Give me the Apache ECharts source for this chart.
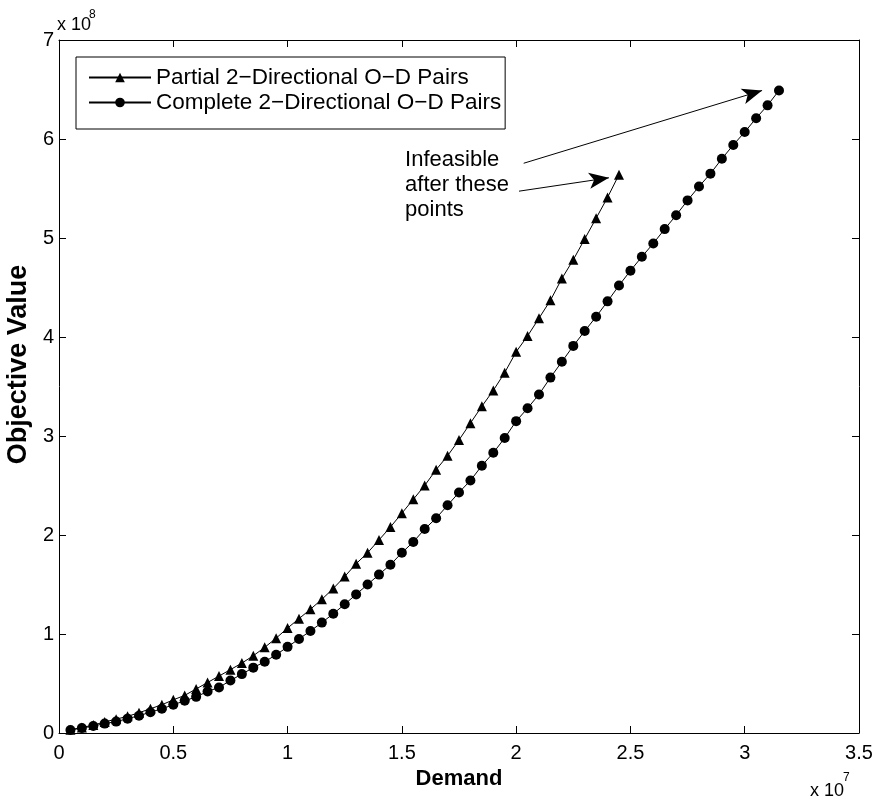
<!DOCTYPE html>
<html><head><meta charset="utf-8">
<script src="https://cdn.jsdelivr.net/npm/echarts@6/dist/echarts.min.js"></script>
<style>html,body{margin:0;padding:0;background:#fff}#chart{width:879px;height:805px}</style>
</head><body><div id="chart"></div>
<script>
const FONT = "'Liberation Sans', Arial, Helvetica, sans-serif";
const seriesNames = ['Partial 2\u2212Directional O\u2212D Pairs', 'Complete 2\u2212Directional O\u2212D Pairs'];

// Demand in units of 1e7, objective value in units of 1e8
const demandPartial = [0.05,0.10,0.15,0.20,0.25,0.30,0.35,0.40,0.45,0.50,0.55,0.60,0.65,0.70,0.75,0.80,0.85,0.90,0.95,1.00,
  1.05,1.10,1.15,1.20,1.25,1.30,1.35,1.40,1.45,1.50,1.55,1.60,1.65,1.70,1.75,1.80,1.85,1.90,1.95,2.00,
  2.05,2.10,2.15,2.20,2.25,2.30,2.35,2.40,2.45];
const objectivePartial = [0.033,0.055,0.08,0.112,0.14,0.168,0.205,0.245,0.285,0.335,0.38,0.445,0.51,0.575,0.64,0.706,0.78,0.865,0.958,1.06,
  1.155,1.25,1.35,1.46,1.58,1.71,1.82,1.95,2.08,2.22,2.36,2.50,2.66,2.80,2.96,3.13,3.30,3.46,3.64,3.85,
  4.01,4.19,4.37,4.59,4.78,4.99,5.20,5.41,5.64];

const demandComplete = [0.05,0.10,0.15,0.20,0.25,0.30,0.35,0.40,0.45,0.50,0.55,0.60,0.65,0.70,0.75,0.80,0.85,0.90,0.95,1.00,
  1.05,1.10,1.15,1.20,1.25,1.30,1.35,1.40,1.45,1.50,1.55,1.60,1.65,1.70,1.75,1.80,1.85,1.90,1.95,2.00,
  2.05,2.10,2.15,2.20,2.25,2.30,2.35,2.40,2.45,2.50,2.55,2.60,2.65,2.70,2.75,2.80,2.85,2.90,2.95,3.00,
  3.05,3.10,3.15];
const objectiveComplete = [0.03,0.05,0.07,0.095,0.115,0.145,0.175,0.21,0.245,0.285,0.325,0.365,0.42,0.46,0.53,0.595,0.66,0.72,0.79,0.87,
  0.95,1.03,1.115,1.205,1.30,1.40,1.50,1.60,1.70,1.82,1.93,2.06,2.17,2.30,2.43,2.55,2.70,2.83,2.98,3.15,
  3.28,3.42,3.59,3.75,3.91,4.06,4.205,4.36,4.52,4.67,4.81,4.945,5.09,5.23,5.38,5.52,5.65,5.80,5.94,6.07,
  6.21,6.34,6.49];

const xRange = [0, 3.5, 0.5];
const yRange = [0, 7, 1];
const xExponent = ['x 10', '7'];
const yExponent = ['x 10', '8'];

// annotation (data coordinates)
const annotationText = ['Infeasible', 'after these', 'points'];
const annotationAnchor = [1.512, 5.541];
const arrowToPartial = [[2.0125, 5.473], [2.406, 5.608]];
const arrowToComplete = [[2.033, 5.755], [3.076, 6.49]];

function pairs(xs, ys) { return xs.map((x, i) => [x, ys[i]]); }

const axisBase = {
  type: 'value',
  axisLine: { show: true, onZero: false, lineStyle: { color: '#000', width: 1 } },
  axisTick: { show: true, inside: true, length: 7, lineStyle: { color: '#000', width: 1 } },
  splitLine: { show: false },
  minorTick: { show: false }
};

const chart = echarts.init(document.getElementById('chart'), null, { renderer: 'canvas' });
chart.setOption({
  animation: false,
  backgroundColor: '#fff',
  textStyle: { fontFamily: FONT, color: '#000' },
  grid: { left: 59, right: 20, top: 40, bottom: 72, containLabel: false, outerBoundsMode: 'none' },
  legend: {
    show: true, left: 76, top: 57, orient: 'vertical', align: 'left',
    itemWidth: 62, itemHeight: 12, itemGap: 2, padding: [9, 4, 15, 12],
    borderColor: '#000', borderWidth: 1, borderRadius: 0, backgroundColor: '#fff',
    selectedMode: false,
    textStyle: { fontSize: 22.5, color: '#000', fontFamily: FONT },
    data: seriesNames
  },
  xAxis: [
    Object.assign({}, axisBase, {
      position: 'bottom', min: xRange[0], max: xRange[1], interval: xRange[2],
      name: 'Demand', nameLocation: 'middle', nameGap: 23,
      nameTextStyle: { fontWeight: 'bold', fontSize: 22, color: '#000', fontFamily: FONT },
      axisLabel: { show: true, color: '#000', fontSize: 20, fontFamily: FONT, margin: 10, showMinLabel: true, showMaxLabel: true }
    }),
    Object.assign({}, axisBase, {
      position: 'top', min: xRange[0], max: xRange[1], interval: xRange[2],
      axisLabel: { show: false }
    })
  ],
  yAxis: [
    Object.assign({}, axisBase, {
      position: 'left', min: yRange[0], max: yRange[1], interval: yRange[2],
      name: 'Objective Value', nameLocation: 'middle', nameGap: 22, nameRotate: 90,
      nameTextStyle: { fontWeight: 'bold', fontSize: 27, color: '#000', fontFamily: FONT, padding: [0, 0, 0, 44] },
      axisLabel: { show: true, color: '#000', fontSize: 20, fontFamily: FONT, margin: 5, showMinLabel: true, showMaxLabel: true }
    }),
    Object.assign({}, axisBase, {
      position: 'right', min: yRange[0], max: yRange[1], interval: yRange[2],
      axisLabel: { show: false }
    })
  ],
  series: [
    {
      name: seriesNames[0], type: 'line', xAxisIndex: 0, yAxisIndex: 0,
      data: pairs(demandPartial, objectivePartial),
      symbol: 'triangle', symbolSize: 10, showSymbol: true,
      lineStyle: { color: '#000', width: 1 },
      itemStyle: { color: '#000', borderWidth: 0 },
      emphasis: { disabled: true },
      markLine: {
        silent: true, symbol: ['none', 'arrow'], symbolSize: [12, 20],
        lineStyle: { color: '#000', width: 1, type: 'solid' },
        label: { show: false },
        emphasis: { disabled: true },
        data: [
          [{ coord: arrowToPartial[0] }, { coord: arrowToPartial[1] }],
          [{ coord: arrowToComplete[0] }, { coord: arrowToComplete[1] }]
        ]
      },
      markPoint: {
        silent: true, symbol: 'circle', symbolSize: 1,
        itemStyle: { color: 'rgba(0,0,0,0)' },
        label: {
          show: true, position: 'right', distance: 0, align: 'left',
          formatter: annotationText.join('\n'),
          color: '#000', fontSize: 22, lineHeight: 25, fontFamily: FONT
        },
        data: [{ coord: annotationAnchor }]
      }
    },
    {
      name: seriesNames[1], type: 'line', xAxisIndex: 0, yAxisIndex: 0,
      data: pairs(demandComplete, objectiveComplete),
      symbol: 'circle', symbolSize: 10, showSymbol: true,
      lineStyle: { color: '#000', width: 1 },
      itemStyle: { color: '#000', borderWidth: 0 },
      emphasis: { disabled: true }
    }
  ],
  graphic: [
    { type: 'text', x: 57, y: 25, silent: true,
      style: { text: yExponent[0], font: '18px ' + FONT, fill: '#000', align: 'left', verticalAlign: 'middle', textAlign: 'left', textVerticalAlign: 'middle' } },
    { type: 'text', x: 89, y: 15, silent: true,
      style: { text: yExponent[1], font: '12px ' + FONT, fill: '#000', align: 'left', verticalAlign: 'middle', textAlign: 'left', textVerticalAlign: 'middle' } },
    { type: 'text', x: 810, y: 791, silent: true,
      style: { text: xExponent[0], font: '18px ' + FONT, fill: '#000', align: 'left', verticalAlign: 'middle', textAlign: 'left', textVerticalAlign: 'middle' } },
    { type: 'text', x: 843, y: 778, silent: true,
      style: { text: xExponent[1], font: '12px ' + FONT, fill: '#000', align: 'left', verticalAlign: 'middle', textAlign: 'left', textVerticalAlign: 'middle' } }
  ]
});
</script></body></html>
